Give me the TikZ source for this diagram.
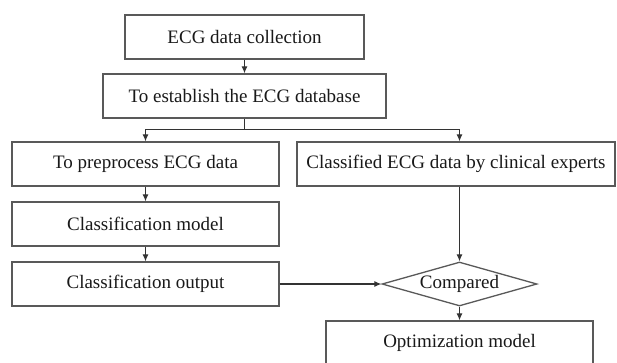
\documentclass[tikz,border=0pt]{standalone}
\usepackage{fontspec}
\setmainfont{Liberation Serif}
\usetikzlibrary{arrows.meta,positioning,shapes.geometric,calc}
\begin{document}
\begin{tikzpicture}[x=1pt,y=1pt,
  arr/.style={-{Latex[length=7pt,width=6pt]},draw=black!80,line width=1.1pt},
  box/.style={draw=black!65,line width=1.3pt,fill=white,minimum height=44pt,inner sep=0pt,
    font=\fontsize{19}{22}\selectfont,text=black!90},
  dmd/.style={diamond,aspect=3.5,draw=black!65,line width=1.3pt,fill=white,minimum width=155pt,
    minimum height=44pt,inner sep=0pt,font=\fontsize{19}{22}\selectfont,text=black!90}]
\useasboundingbox (0,0) rectangle (617,-362);
\node[box,minimum width=239pt] (collect) at (244.5,-37) {ECG data collection};
\node[box,minimum width=283pt] (database) at (244.5,-96) {To establish the ECG database};
\node[box,minimum width=267pt] (preproc) at (145.5,-164) {To preprocess ECG data};
\node[box,minimum width=318pt] (experts) at (456,-164) {Classified ECG data by clinical experts};
\node[box,minimum width=267pt] (model) at (145.5,-224) {Classification model};
\node[box,minimum width=267pt] (output) at (145.5,-284) {Classification output};
\node[dmd] (cmp) at (459.5,-284) {Compared};
\node[box,minimum width=267pt] (optim) at (459.5,-343) {Optimization model};
\coordinate (split) at ($(database.south)+(0,-11)$);
\draw[arr](collect)--(database);
\draw[draw=black!80,line width=1.1pt](database.south)--(split);
\draw[arr](split)-|(preproc.north);
\draw[arr](split)-|(cmp |- experts.north);
\draw[arr](preproc)--(model);
\draw[arr](model)--(output);
\draw[arr](cmp |- experts.south)--(cmp.north);
\draw[arr](output)--(cmp);
\draw[arr](cmp)--(optim);
\end{tikzpicture}
\end{document}
